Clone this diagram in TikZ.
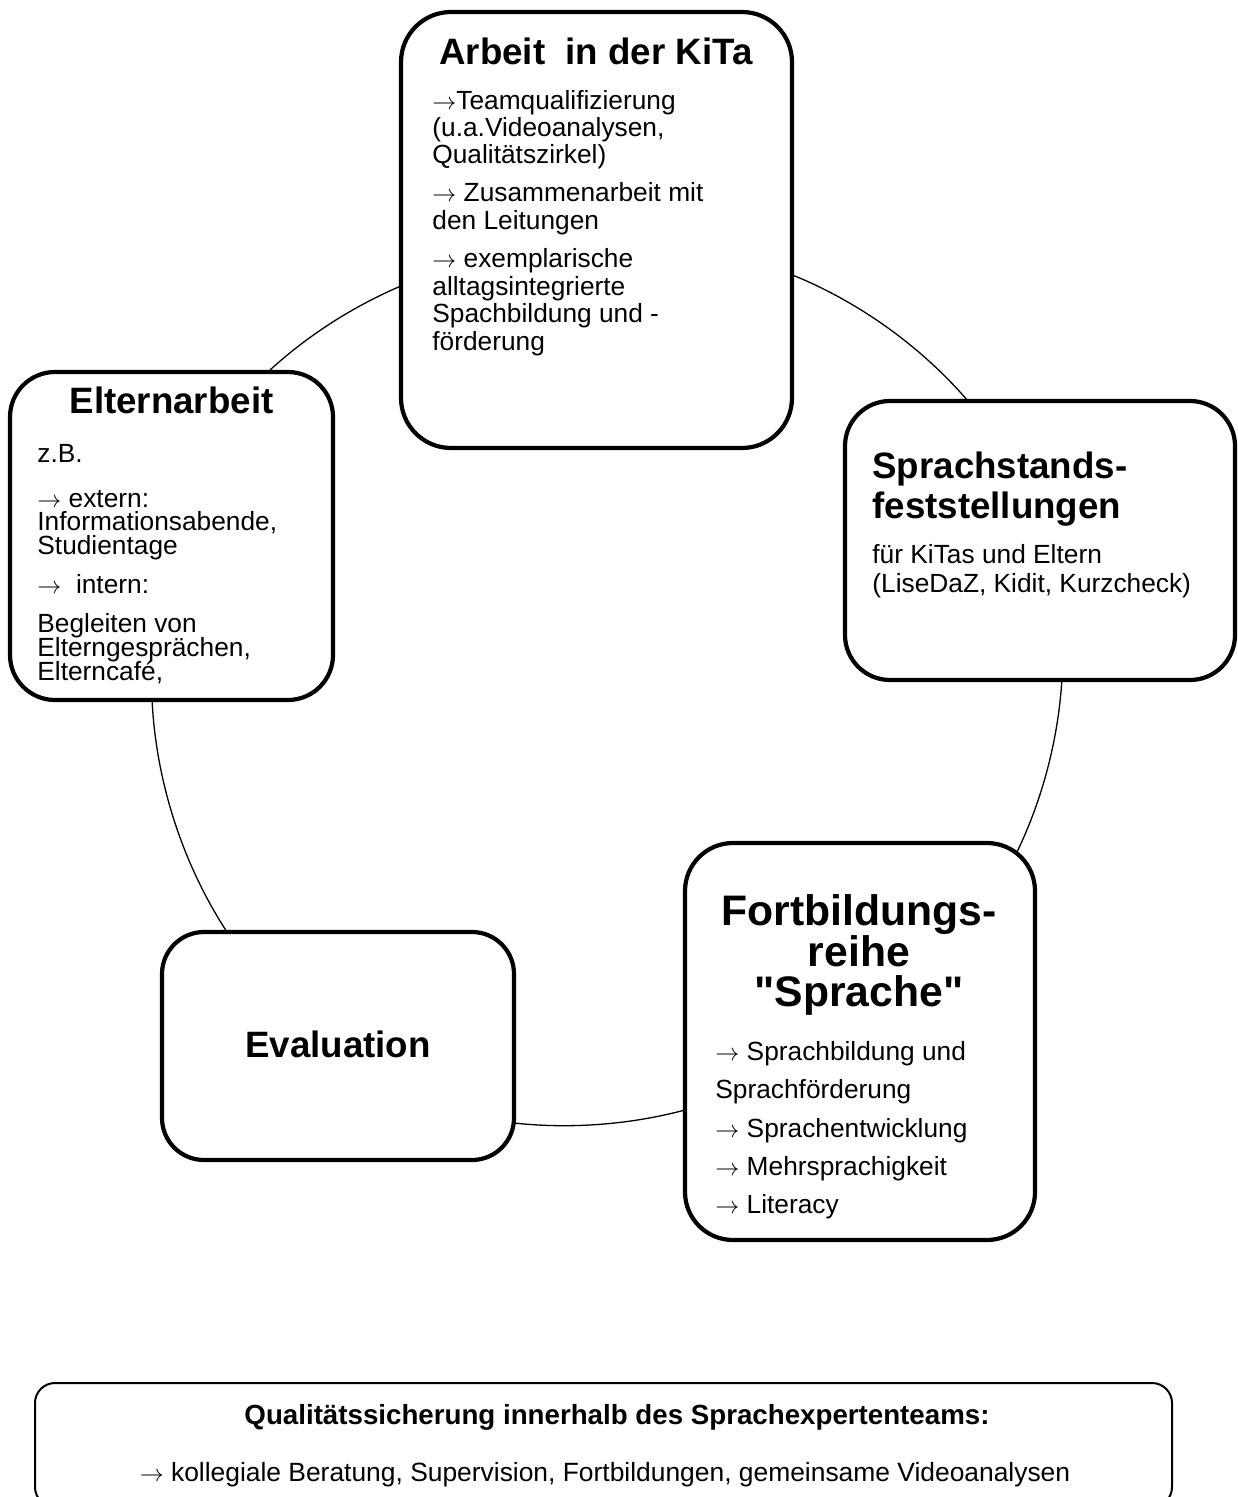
\documentclass[tikz,border=0pt]{standalone}
\usepackage{fontspec}
\setmainfont{Liberation Sans}
\newfontfamily\rawfont{Liberation Sans}[Ligatures=TeXOff]
\usetikzlibrary{backgrounds}
\newcommand\arr{$\rightarrow$}
\begin{document}
\begin{tikzpicture}[x=0.5pt,y=-0.5pt,
  box/.style={draw, fill=white, line width=2.1pt, rounded corners=22.5pt, inner sep=0pt},
  ttl/.style={font=\fontsize{18.35}{20}\selectfont\bfseries, inner sep=0pt, anchor=base},
  bigttl/.style={font=\fontsize{21.35}{23}\selectfont\bfseries, inner sep=0pt, anchor=base},
  bdy/.style={font=\fontsize{13.15}{14}\selectfont, inner sep=0pt, anchor=base west},
  ring/.style={line width=0.65pt, looseness=0.85},
  qbox/.style={draw, line width=1pt, rounded corners=10pt, inner sep=0pt}
]
\useasboundingbox (0,0) rectangle (1237,1497);

% boxes
\node[box, rounded corners=25pt, minimum width=195.5pt, minimum height=218pt] (kita) at (596.5,230) {};
\node[box, minimum width=161.5pt, minimum height=164pt] (eltern) at (171.5,536) {};
\node[box, minimum width=195pt, minimum height=139.5pt] (stand) at (1040,540.5) {};
\node[box, rounded corners=24pt, minimum width=175pt, minimum height=198.5pt] (fortb) at (860,1041.5) {};
\node[box, rounded corners=21pt, minimum width=176pt, minimum height=114pt] (eval) at (338,1046) {};
\node[qbox, minimum width=568.5pt, minimum height=62pt] (qual) at (603.5,1445) {};

% arc end points on the box borders
\coordinate (a1) at (270,370);
\coordinate (a2) at (401,286);
\coordinate (a3) at (790,274);
\coordinate (a4) at (968,401);
\coordinate (a5) at (1062,678);
\coordinate (a6) at (1017,852);
\coordinate (a7) at (685,1110);
\coordinate (a8) at (514,1123);
\coordinate (a9) at (227,932);
\coordinate (a10) at (152,698);

\begin{scope}[on background layer]
\fill[white] (0,0) rectangle (1237,1497);
\draw[ring] (a1) to[bend left=9.7] (a2);
\draw[ring] (a3) to[bend left=13.8] (a4);
\draw[ring] (a5) to[bend left=11.2] (a6);
\draw[ring] (a7) to[bend left=10.6] (a8);
\draw[ring] (a9) to[bend left=15.4] (a10);
\end{scope}

% KiTa
\node[ttl] (kitaT) at (596,65) {Arbeit\ \ in der KiTa};
\node[bdy] (k1) at (432,110) {\arr Teamqualifizierung};
\node[bdy] (k2) at (432,137) {(u.a.Videoanalysen,};
\node[bdy] (k3) at (432,164) {Qualitätszirkel)};
\node[bdy] (k4) at (432,202) {\arr\ Zusammenarbeit mit};
\node[bdy] (k5) at (432,230) {den Leitungen};
\node[bdy] (k6) at (432,268) {\arr\ exemplarische};
\node[bdy] (k7) at (432,296) {alltagsintegrierte};
\node[bdy] (k8) at (432,323) {Spachbildung und -};
\node[bdy] (k9) at (432,351) {förderung};

% Elternarbeit
\node[ttl] (elternT) at (171.5,414) {Elternarbeit};
\node[bdy] (e1) at (37,462) {z.B.};
\node[bdy] (e2) at (37,507) {\arr\ extern:};
\node[bdy] (e3) at (37,530) {Informationsabende,};
\node[bdy] (e4) at (37,554) {Studientage};
\node[bdy] (e5) at (37,593) {\arr\ \ intern:};
\node[bdy] (e6) at (37,632) {Begleiten von};
\node[bdy] (e7) at (37,656) {Elterngesprächen,};
\node[bdy] (e8) at (37,680) {Elterncafé,};

% Sprachstand
\node[ttl, anchor=base west] (standT1) at (872,478) {Sprachstands-};
\node[ttl, anchor=base west] (standT2) at (872,518) {feststellungen};
\node[bdy] (s1) at (872,563) {für KiTas und Eltern};
\node[bdy] (s2) at (872,592) {(LiseDaZ, Kidit, Kurzcheck)};

% Fortbildungsreihe
\node[bigttl] (fortbT1) at (859,925) {Fortbildungs-};
\node[bigttl] (fortbT2) at (859,966) {reihe};
\node[bigttl] (fortbT3) at (859,1006) {{\rawfont\bfseries "Sprache"}};
\node[bdy] (f1) at (715,1060) {\arr\ Sprachbildung und};
\node[bdy] (f2) at (715,1098) {Sprachförderung};
\node[bdy] (f3) at (715,1137) {\arr\ Sprachentwicklung};
\node[bdy] (f4) at (715,1175) {\arr\ Mehrsprachigkeit};
\node[bdy] (f5) at (715,1213) {\arr\ Literacy};

% Evaluation
\node[ttl] (evalT) at (338,1057) {Evaluation};

% Qualitaetssicherung
\node[font=\fontsize{13.85}{15}\selectfont\bfseries, inner sep=0pt, anchor=base] (qualT) at (617,1424) {Qualitätssicherung innerhalb des Sprachexpertenteams:};
\node[font=\fontsize{13.2}{14}\selectfont, inner sep=0pt, anchor=base] (qualB) at (605,1481) {\arr\ kollegiale Beratung, Supervision, Fortbildungen, gemeinsame Videoanalysen};
\end{tikzpicture}
\end{document}
